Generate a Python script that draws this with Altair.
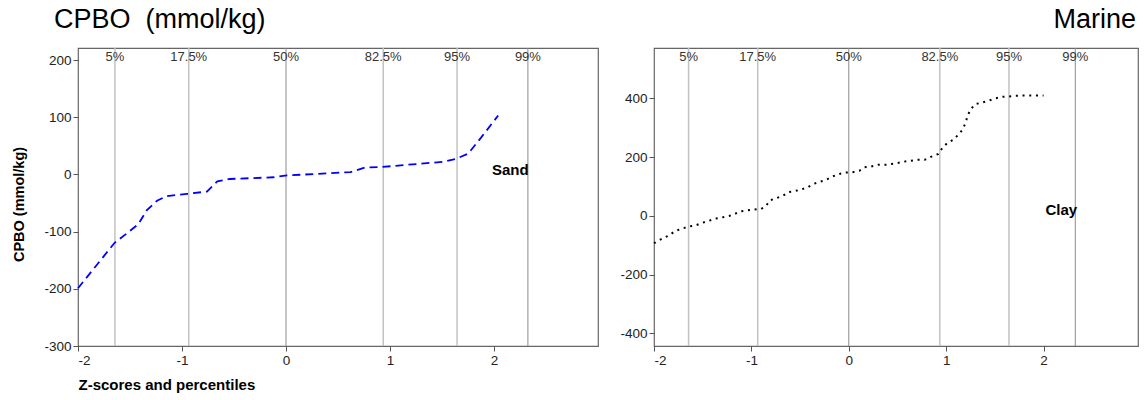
import altair as alt
import pandas as pd

# ---- data ----
sand_z = [-2.0, -1.65, -1.53, -1.42, -1.34, -1.24, -1.15, -0.95, -0.76, -0.66, -0.54,
          -0.12, -0.01, 0.62, 0.76, 0.92, 1.51, 1.63, 1.75, 1.87, 2.04]
sand_v = [-199, -120, -103, -87, -63, -46, -38, -34, -30, -12, -8,
          -5, -2, 4, 12, 13, 22, 27, 36, 63, 103]

clay_z = [-2.0, -1.92, -1.85, -1.78, -1.71, -1.64, -1.58, -1.51, -1.44, -1.37, -1.30,
          -1.23, -1.17, -1.11, -1.04, -0.97, -0.90, -0.85, -0.81, -0.74, -0.67, -0.62,
          -0.55, -0.50, -0.43, -0.37, -0.30, -0.24, -0.17, -0.10, -0.03, 0.04, 0.11,
          0.16, 0.23, 0.30, 0.37, 0.44, 0.51, 0.57, 0.64, 0.71, 0.78, 0.85, 0.92, 0.96,
          1.01, 1.07, 1.13, 1.17, 1.20, 1.22, 1.25, 1.30, 1.37, 1.44, 1.51, 1.58, 1.64,
          1.71, 1.78, 1.85, 1.92, 2.0]
clay_v = [-93, -78, -67, -51, -43, -36, -33, -24, -17, -9, -5,
          0, 7, 16, 19, 22, 24, 34, 53, 61, 70, 81,
          85, 89, 96, 108, 116, 122, 134, 143, 148, 149, 154,
          166, 168, 174, 174, 177, 181, 185, 188, 191, 191, 202, 211, 231,
          248, 259, 278, 295, 318, 341, 363, 381, 386, 393, 401, 406, 407,
          409, 410, 410, 410, 410]

pct_z = [-1.645, -0.935, 0.0, 0.935, 1.645, 2.326]
pct_labels = ["5%", "17.5%", "50%", "82.5%", "95%", "99%"]
pct_shade = ["light", "light", "dark", "light", "light", "dark"]

x_ticks = [-2, -1, 0, 1, 2]
left_y_ticks = [-300, -200, -100, 0, 100, 200]
right_y_ticks = [-400, -200, 0, 200, 400]

left_title = "CPBO\u00a0\u00a0(mmol/kg)"
right_title = "Marine"
y_title = "CPBO (mmol/kg)"
x_title = "Z-scores and percentiles"

FONT = "Liberation Sans"

pct_df = pd.DataFrame({"z": pct_z, "label": pct_labels, "shade": pct_shade})


def panel(z, v, name, name_z, name_v, color, dash, swidth, xdom, ydom, yticks,
          width, xt, yt, title, anchor, tdx):
    line_df = pd.DataFrame({"z": z, "v": v})
    lab_df = pd.DataFrame({"z": [name_z], "v": [name_v], "t": [name]})
    xaxis = alt.Axis(values=x_ticks, title=xt, titleAnchor="start", titleAlign="left",
                     titleFontWeight="bold", titleFontSize=15, titlePadding=11,
                     titleFont=FONT, titleColor="black",
                     labelExpr="'' + datum.value")
    yaxis = alt.Axis(values=yticks, title=yt, titleFontWeight="bold",
                     titleFontSize=14.5, titlePadding=17, titleFont=FONT,
                     titleColor="black", titleY=156, labelExpr="'' + datum.value")
    xenc = alt.X("z:Q", scale=alt.Scale(domain=xdom, nice=False, zero=False), axis=xaxis)
    yenc = alt.Y("v:Q", scale=alt.Scale(domain=ydom, nice=False, zero=False), axis=yaxis)

    rules = alt.Chart(pct_df).mark_rule().encode(
        x=xenc,
        color=alt.Color("shade:N", scale=alt.Scale(domain=["light", "dark"],
                                                   range=["#c2c2c2", "#8c8c8c"]),
                        legend=None),
        strokeWidth=alt.StrokeWidth("shade:N", scale=alt.Scale(domain=["light", "dark"],
                                                                range=[1.5, 1.0]),
                                    legend=None),
    )
    plabels = alt.Chart(pct_df).mark_text(
        align="center", baseline="alphabetic", fontSize=13, font=FONT, color="#333333"
    ).encode(x=xenc, y=alt.value(13), text="label:N")
    line = alt.Chart(line_df).mark_line(
        color=color, strokeDash=dash, strokeWidth=swidth
    ).encode(x=xenc, y=yenc)
    lab = alt.Chart(lab_df).mark_text(
        align="left", baseline="middle", fontSize=15, fontWeight="bold", font=FONT,
        color="black"
    ).encode(x=xenc, y=yenc, text="t:N")
    return alt.layer(rules, plabels, line, lab).properties(
        width=width, height=298,
        title=alt.TitleParams(title, anchor=anchor, fontSize=27, fontWeight="normal",
                              font=FONT, color="black", dx=tdx, offset=13),
    )


left = panel(sand_z, sand_v, "Sand", 1.98, 7, "#0000ff", [8, 5], 1.8,
             [-2, 3], [-300, 221], left_y_ticks, 520, x_title, y_title,
             left_title, "start", 42)
right = panel(clay_z, clay_v, "Clay", 2.02, 20, "#000000", [2, 4.7], 2.0,
              [-2, 2.97], [-443, 572], right_y_ticks, 484, None, None,
              right_title, "end", -2)

chart = alt.hconcat(left, right, spacing=20).properties(
    padding={"left": 11, "top": 5, "right": 4, "bottom": 4}
).configure_view(
    stroke="#666666", strokeWidth=1.2
).configure_axis(
    domain=False, grid=False, tickColor="#555555", tickSize=5, tickWidth=1,
    labelFont=FONT, labelFontSize=13.5, labelColor="#222222", labelPadding=2
)

chart.save("out.html", embed_options={"renderer": "svg", "actions": False})
